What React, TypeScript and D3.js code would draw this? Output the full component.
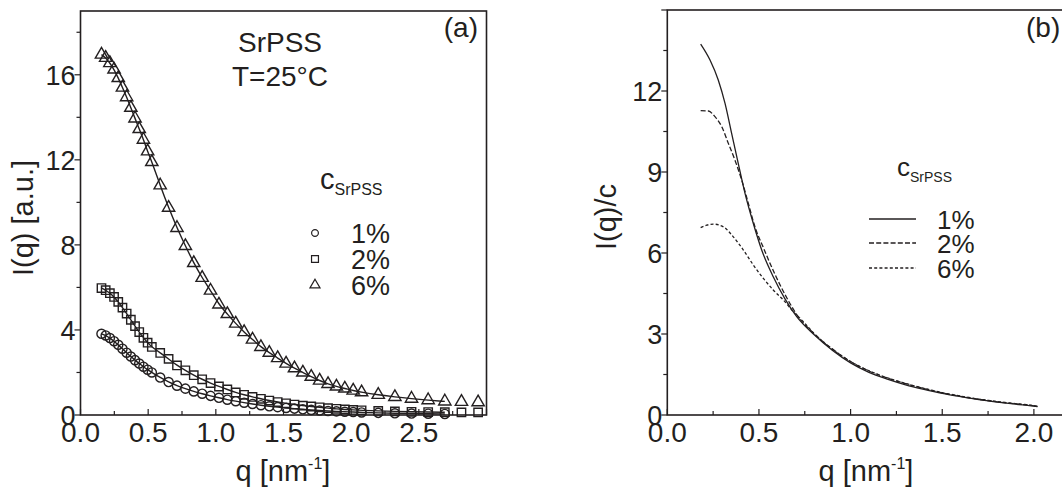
import React, { useEffect, useRef } from "react";
import * as d3 from "d3";

// panel (a): measured I(q) points
const qA = [
  0.155, 0.186, 0.217, 0.248, 0.279, 0.31, 0.341, 0.372, 0.403, 0.434, 0.465, 0.496, 0.527,
  0.589, 0.651, 0.713, 0.775, 0.837, 0.899, 0.961, 1.023, 1.085, 1.147, 1.209, 1.271, 1.333,
  1.395, 1.457, 1.519, 1.581, 1.643, 1.705, 1.767, 1.829, 1.891, 1.953, 2.015, 2.077,
  2.2, 2.323, 2.446, 2.569, 2.692, 2.815, 2.938,
];
const pts1 = [
  3.82, 3.74, 3.62, 3.47, 3.3, 3.12, 2.93, 2.75, 2.58, 2.42, 2.27, 2.13, 2.0,
  1.76, 1.55, 1.38, 1.24, 1.11, 1.0, 0.9, 0.81, 0.72, 0.65, 0.58, 0.52, 0.46,
  0.41, 0.37, 0.33, 0.3, 0.27, 0.24, 0.21, 0.19, 0.17, 0.15, 0.14, 0.12,
  0.1, 0.08, 0.07, 0.06, 0.05,
];
const pts2 = [
  5.97, 5.87, 5.73, 5.55, 5.32, 5.05, 4.77, 4.48, 4.18, 3.9, 3.63, 3.4, 3.2,
  2.92, 2.64, 2.33, 2.1, 1.87, 1.68, 1.5, 1.34, 1.2, 1.06, 0.95, 0.85, 0.76,
  0.68, 0.61, 0.55, 0.49, 0.44, 0.4, 0.36, 0.32, 0.29, 0.26, 0.24, 0.22,
  0.19, 0.17, 0.15, 0.14, 0.13, 0.12, 0.12,
];
const pts6 = [
  16.95, 16.8, 16.55, 16.25, 15.85, 15.4, 14.95, 14.45, 13.95, 13.45, 12.95, 12.4, 11.9,
  10.8, 9.75, 8.8, 7.95, 7.15, 6.45, 5.85, 5.2, 4.75, 4.3, 3.9, 3.55, 3.2,
  2.93, 2.68, 2.42, 2.2, 2.0, 1.8, 1.62, 1.46, 1.34, 1.25, 1.15, 1.07,
  0.95, 0.85, 0.77, 0.7, 0.64, 0.62, 0.6,
];
const fitEnd = 2.7;

// panel (b): I(q)/c curves
const qB1 = [0.182, 0.233, 0.278, 0.315, 0.351, 0.387, 0.424, 0.469, 0.515, 0.578, 0.642, 0.706, 0.8, 0.9, 1.0, 1.1, 1.2, 1.3, 1.4, 1.5, 1.6, 1.7, 1.8, 1.9, 2.0, 2.02];
const b1 = [13.74, 13.15, 12.41, 11.54, 10.43, 9.32, 8.21, 7.1, 6.11, 5.12, 4.3, 3.64, 2.98, 2.4, 1.93, 1.58, 1.33, 1.12, 0.95, 0.8, 0.68, 0.57, 0.48, 0.4, 0.33, 0.31];
const qB2 = [0.182, 0.224, 0.26, 0.297, 0.333, 0.369, 0.406, 0.442, 0.478, 0.524, 0.588, 0.651, 0.706, 0.8, 0.9, 1.0, 1.1, 1.2, 1.3, 1.4, 1.5, 1.6, 1.7, 1.8, 1.9, 2.0, 2.02];
const b2 = [11.27, 11.26, 11.05, 10.68, 10.06, 9.44, 8.7, 7.84, 6.97, 6.2, 5.2, 4.35, 3.72, 3.02, 2.45, 1.98, 1.63, 1.37, 1.16, 0.98, 0.82, 0.69, 0.58, 0.49, 0.41, 0.34, 0.32];
const qB6 = [0.182, 0.215, 0.251, 0.306, 0.36, 0.415, 0.469, 0.524, 0.578, 0.633, 0.687, 0.75, 0.8, 0.9, 1.0, 1.1, 1.2, 1.3, 1.4, 1.5, 1.6, 1.7, 1.8, 1.9, 2.0, 2.02];
const b6 = [6.94, 7.03, 7.07, 6.97, 6.6, 6.11, 5.56, 5.06, 4.63, 4.26, 3.83, 3.4, 3.02, 2.44, 1.98, 1.64, 1.38, 1.17, 0.99, 0.83, 0.7, 0.59, 0.5, 0.42, 0.35, 0.33];

const legendLabels = ["1%", "2%", "6%"];
const xTicksA = [0, 0.5, 1.0, 1.5, 2.0, 2.5];
const yTicksA = [0, 4, 8, 12, 16];
const xTicksB = [0, 0.5, 1.0, 1.5, 2.0];
const yTicksB = [0, 3, 6, 9, 12];

const INK = "#231f20";
const FONT = "'Liberation Sans', Arial, sans-serif";

type Sel = d3.Selection<SVGGElement, unknown, null, undefined>;

function axes(g: Sel, x: d3.ScaleLinear<number, number>, y: d3.ScaleLinear<number, number>,
  xt: number[], yt: number[], xStep: number, yStep: number) {
  const [x0, x1] = x.range();
  const [y0, y1] = y.range();
  const xd = x.domain()[1];
  const yd = y.domain()[1];

  g.append("rect")
    .attr("x", x0).attr("y", y1)
    .attr("width", x1 - x0).attr("height", y0 - y1)
    .attr("fill", "none").attr("stroke", INK).attr("stroke-width", 1.6);

  // x ticks point inward, minor every half step
  const xMinor = d3.range(0, xd + 1e-6, xStep / 2);
  g.selectAll(".xt").data(xMinor).enter().append("line")
    .attr("x1", (d) => x(d)).attr("x2", (d) => x(d))
    .attr("y1", y0).attr("y2", (d, i) => y0 - (i % 2 === 0 ? 6 : 4))
    .attr("stroke", INK).attr("stroke-width", 1.2);
  g.selectAll(".xl").data(xt).enter().append("text")
    .attr("x", x(0)).attr("y", y0 + 27)
    .attr("x", (d) => x(d))
    .attr("text-anchor", "middle")
    .attr("font-size", 28)
    .text((d) => d.toFixed(1));

  // y ticks point outward
  const yMinor = d3.range(0, yd + 1e-6, yStep / 2);
  g.selectAll(".yt").data(yMinor).enter().append("line")
    .attr("x1", x0).attr("x2", (d, i) => x0 - (i % 2 === 0 ? 6 : 4))
    .attr("y1", (d) => y(d)).attr("y2", (d) => y(d))
    .attr("stroke", INK).attr("stroke-width", 1.2);
  g.selectAll(".yl").data(yt).enter().append("text")
    .attr("x", x0 - 5).attr("y", (d) => y(d))
    .attr("dy", "0.36em")
    .attr("text-anchor", "end")
    .attr("font-size", 27)
    .text((d) => d);
}

function qTitle(g: Sel, cx: number) {
  const t = g.append("text").attr("x", cx).attr("y", 481)
    .attr("text-anchor", "middle").attr("font-size", 29);
  t.append("tspan").text("q [nm");
  t.append("tspan").attr("dy", -12).attr("font-size", 16).text("-1");
  t.append("tspan").attr("dy", 12).text("]");
}

function cLabel(g: Sel, x: number, y: number, big: number, small: number) {
  const t = g.append("text").attr("x", x).attr("y", y).attr("font-size", big);
  t.append("tspan").text("c");
  t.append("tspan").attr("dy", 6).attr("font-size", small).text("SrPSS");
}

const App = () => {
  const ref = useRef<SVGSVGElement>(null);

  useEffect(() => {
    const svg = d3.select(ref.current);
    svg.selectAll("*").remove();
    const root = svg.append("g")
      .attr("font-family", FONT)
      .attr("fill", INK) as unknown as Sel;

    // ---------- panel (a)
    const xa = d3.scaleLinear().domain([0, 3.0]).range([80.5, 486.5]);
    const ya = d3.scaleLinear().domain([0, 19]).range([415, 11]);
    const ga = root.append("g");
    axes(ga, xa, ya, xTicksA, yTicksA, 0.5, 4);

    const fitLine = d3.line<[number, number]>()
      .x((d) => xa(d[0])).y((d) => ya(d[1]))
      .curve(d3.curveBasis);
    [pts1, pts2, pts6].forEach((vals) => {
      const pts = vals.map((v, i) => [qA[i], v] as [number, number]).filter((d) => d[0] <= fitEnd);
      ga.append("path").attr("d", fitLine(pts)!)
        .attr("fill", "none").attr("stroke", INK).attr("stroke-width", 1.4);
    });

    const mk = (type: d3.SymbolType, size: number) => d3.symbol().type(type).size(size)()!;
    const markers = [mk(d3.symbolCircle, 66), mk(d3.symbolSquare, 70), mk(d3.symbolTriangle, 66)];
    const legendMarkers = [mk(d3.symbolCircle, 36), mk(d3.symbolSquare, 48), mk(d3.symbolTriangle, 44)];
    [pts1, pts2, pts6].forEach((vals, s) => {
      ga.selectAll(null).data(vals).enter().append("path")
        .attr("d", markers[s])
        .attr("transform", (v, i) => `translate(${xa(qA[i])},${ya(v)})`)
        .attr("fill", "none").attr("stroke", INK).attr("stroke-width", 1.4);
    });

    ga.append("text").attr("x", 280).attr("y", 52).attr("text-anchor", "middle")
      .attr("font-size", 28).text("SrPSS");
    ga.append("text").attr("x", 280).attr("y", 86).attr("text-anchor", "middle")
      .attr("font-size", 28).text("T=25°C");
    ga.append("text").attr("x", 478).attr("y", 37).attr("text-anchor", "end")
      .attr("font-size", 28).text("(a)");

    cLabel(ga, 320, 189, 29, 16);
    const legYa = [233, 259, 285];
    legendLabels.forEach((lab, i) => {
      ga.append("path").attr("d", legendMarkers[i])
        .attr("transform", `translate(315,${legYa[i]})`)
        .attr("fill", "none").attr("stroke", INK).attr("stroke-width", 1.2);
      ga.append("text").attr("x", 351).attr("y", legYa[i] + 10)
        .attr("font-size", 27).text(lab);
    });

    ga.append("text")
      .attr("transform", "translate(33,218) rotate(-90)")
      .attr("text-anchor", "middle").attr("font-size", 29)
      .text("I(q) [a.u.]");
    qTitle(ga, 283);

    // ---------- panel (b)
    const xb = d3.scaleLinear().domain([0, 2.215]).range([667.3, 1073.3]);
    const yb = d3.scaleLinear().domain([0, 15]).range([415, 10]);
    const gb = root.append("g");
    axes(gb, xb, yb, xTicksB, yTicksB, 0.5, 3);

    const curveLine = d3.line<[number, number]>()
      .x((d) => xb(d[0])).y((d) => yb(d[1]))
      .curve(d3.curveMonotoneX);
    const dashes = [null, "5,2.2", "3,2.2"];
    [[qB1, b1], [qB2, b2], [qB6, b6]].forEach(([qs, vs], s) => {
      const pts = vs.map((v, i) => [qs[i], v] as [number, number]);
      gb.append("path").attr("d", curveLine(pts)!)
        .attr("fill", "none").attr("stroke", INK).attr("stroke-width", 1.3)
        .attr("stroke-dasharray", dashes[s]);
    });

    gb.append("text").attr("x", 1026).attr("y", 37)
      .attr("font-size", 28).text("(b)");
    cLabel(gb, 897, 176, 26, 14);
    const legYb = [219, 243, 268];
    legendLabels.forEach((lab, i) => {
      gb.append("line").attr("x1", 869).attr("x2", 916)
        .attr("y1", legYb[i]).attr("y2", legYb[i])
        .attr("stroke", INK).attr("stroke-width", 1.3)
        .attr("stroke-dasharray", dashes[i]);
      gb.append("text").attr("x", 937).attr("y", legYb[i] + 10)
        .attr("font-size", 26).text(lab);
    });

    gb.append("text")
      .attr("transform", "translate(616,217) rotate(-90)")
      .attr("text-anchor", "middle").attr("font-size", 29)
      .text("I(q)/c");
    qTitle(gb, 866);
  }, []);

  return (
    <svg
      ref={ref}
      width={1062}
      height={490}
      style={{ position: "absolute", left: 0, top: 0, background: "#fff" }}
    />
  );
};

export default App;
